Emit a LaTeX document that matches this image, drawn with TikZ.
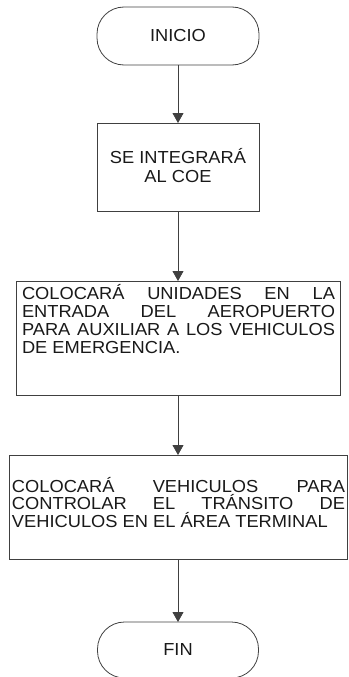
\documentclass[tikz,border=0pt]{standalone}
\usepackage{fontspec}
\setmainfont{Liberation Sans}[FakeStretch=1.05]
\usetikzlibrary{arrows.meta}
\begin{document}
\begin{tikzpicture}[x=1pt,y=-1pt,
  every node/.style={outer sep=0pt, inner sep=0pt},
  lbl/.style={font=\fontsize{17.4}{18.3}\selectfont, text=black!90},
  boxnode/.style={draw=black!75, line width=0.8pt, rectangle},
  term/.style={draw=black!75, line width=0.8pt, rectangle, rounded corners=27pt},
  flow/.style={draw=black!75, line width=0.8pt, -{Triangle[length=10pt,width=11pt]}}]
\useasboundingbox (0,0) rectangle (348,677);
\node[term, minimum width=162pt, minimum height=58pt, lbl] (inicio) at (178,36) {INICIO};
\node[boxnode, minimum width=162pt, minimum height=88pt] (box2) at (178,167) {};
\node[boxnode, minimum width=324pt, minimum height=114pt] (box3) at (178,338) {};
\node[boxnode, minimum width=338pt, minimum height=104pt] (box4) at (178,507) {};
\node[term, minimum width=161pt, minimum height=56pt, lbl] (fin) at (178,650) {\raisebox{-6pt}{FIN}};
\node[lbl, anchor=base] (t2) at (178,163) {\parbox[t]{150pt}{\fontsize{17.4}{19.8}\selectfont\centering SE INTEGRARÁ\\AL COE}};
\node[lbl, anchor=base west] (t3) at (22,299) {\parbox[t]{313pt}{COLOCARÁ UNIDADES EN LA\linebreak ENTRADA DEL AEROPUERTO\linebreak PARA AUXILIAR A LOS VEHICULOS\linebreak DE EMERGENCIA.}};
\node[lbl, anchor=base west] (t4) at (12,492) {\parbox[t]{333pt}{\fontsize{17.4}{17.8}\selectfont COLOCARÁ VEHICULOS PARA\linebreak CONTROLAR EL TRÁNSITO DE\linebreak VEHICULOS EN EL ÁREA TERMINAL}};
\draw[flow] (inicio) -- (box2);
\draw[flow] (box2) -- (box3);
\draw[flow] (box3) -- (box4);
\draw[flow] (box4) -- (fin);
\end{tikzpicture}
\end{document}
